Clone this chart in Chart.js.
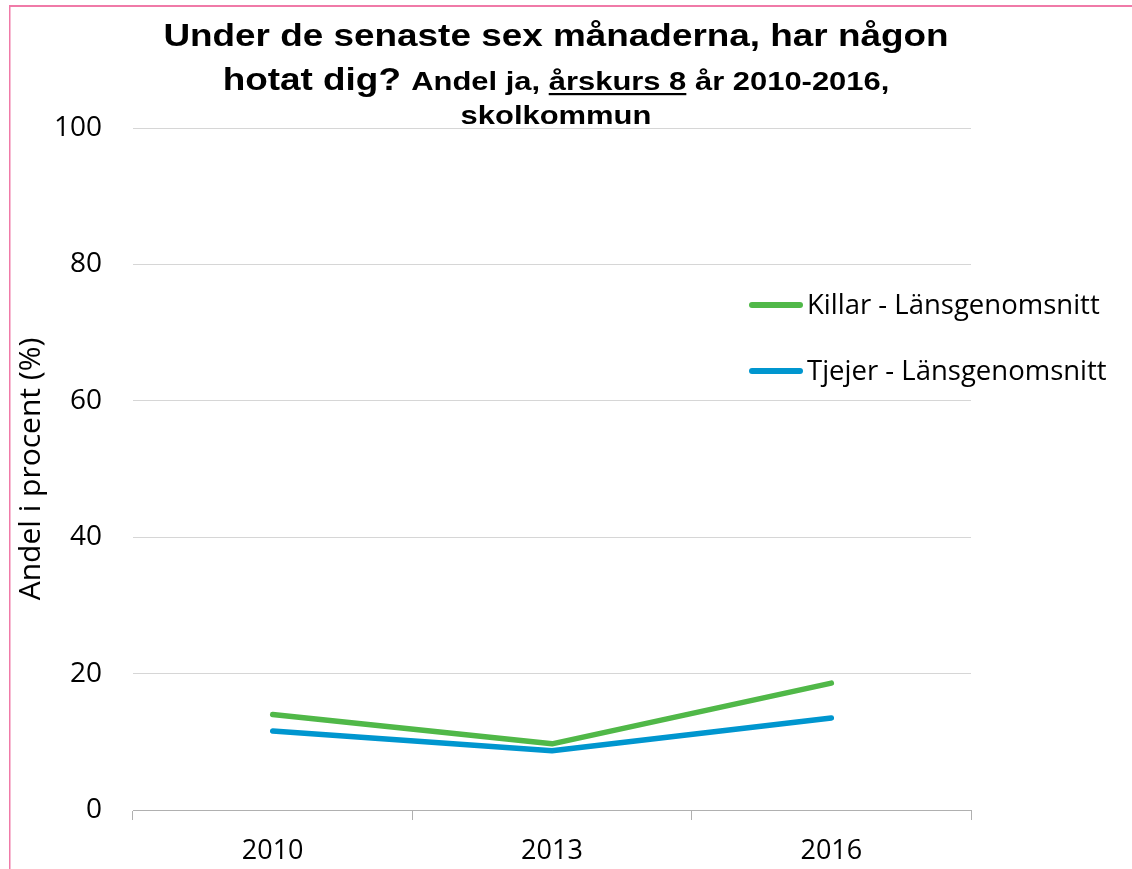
<!DOCTYPE html>
<html>
<head>
<meta charset="utf-8">
<script src="https://cdn.jsdelivr.net/npm/chart.js@4"></script>
<style>
  html, body { margin: 0; padding: 0; background: #fff; }
  #wrap { width: 1132px; height: 869px; position: relative; }
</style>
</head>
<body>
<div id="wrap"><canvas id="c" width="1132" height="869"></canvas></div>
<script>
// Survey years and share answering "ja" (%)
const years = ['2010', '2013', '2016'];
const killar = [14.0, 9.7, 18.6];
const tjejer = [11.6, 8.7, 13.5];
const seriesNames = ['Killar - Länsgenomsnitt', 'Tjejer - Länsgenomsnitt'];
const seriesColors = ['#50B848', '#0096CF'];

const titleLine1 = 'Under de senaste sex månaderna, har någon';
const titleLine2Big = 'hotat dig? ';
const titleLine2Parts = [
  { text: 'Andel ja, ', underline: false },
  { text: 'årskurs 8', underline: true },
  { text: ' år 2010-2016,', underline: false }
];
const titleLine3 = 'skolkommun';
const yAxisTitle = 'Andel i procent (%)';

const BODY_FONT = '"Open Sans", Lato, sans-serif';
const TITLE_FONT = '"Liberation Sans", Arial, sans-serif';
const TITLE_STRETCH = 1.19;

// Page frame and white background
const framePlugin = {
  id: 'frame',
  beforeDraw(chart) {
    const ctx = chart.ctx;
    ctx.save();
    ctx.fillStyle = '#ffffff';
    ctx.fillRect(0, 0, chart.width, chart.height);
    ctx.fillStyle = '#F07AA8';
    ctx.fillRect(9, 5, chart.width - 9, 2);
    ctx.fillRect(9, 5, 1.5, chart.height - 5);
    ctx.restore();
  }
};

// Multi-size bold title (slightly widened) with an underlined segment
const titlePlugin = {
  id: 'mixedTitle',
  afterDraw(chart) {
    const ctx = chart.ctx;
    const cx = 556;
    const s = TITLE_STRETCH;
    ctx.save();
    ctx.translate(cx, 0);
    ctx.scale(s, 1);
    ctx.fillStyle = '#000';
    ctx.textBaseline = 'alphabetic';
    const big = 'bold 31px ' + TITLE_FONT;
    const small = 'bold 26px ' + TITLE_FONT;

    ctx.font = big;
    ctx.textAlign = 'center';
    ctx.fillText(titleLine1, 0, 46);

    // second line: big part + small parts, centred together
    ctx.textAlign = 'left';
    ctx.font = big;
    const wBig = ctx.measureText(titleLine2Big).width;
    ctx.font = small;
    const widths = titleLine2Parts.map(p => ctx.measureText(p.text).width);
    const total = wBig + widths.reduce((a, b) => a + b, 0);
    let x = -total / 2;
    const y2 = 90;
    ctx.font = big;
    ctx.fillText(titleLine2Big, x, y2);
    x += wBig;
    ctx.font = small;
    titleLine2Parts.forEach((p, i) => {
      ctx.fillText(p.text, x, y2);
      if (p.underline) {
        ctx.fillRect(x, y2 + 3, widths[i], 2.2);
      }
      x += widths[i];
    });

    ctx.font = small;
    ctx.textAlign = 'center';
    ctx.fillText(titleLine3, 0, 124);
    ctx.restore();
  }
};

// Legend drawn inside the plot, to the right
const legendPlugin = {
  id: 'sideLegend',
  afterDraw(chart) {
    const ctx = chart.ctx;
    ctx.save();
    ctx.font = '27.5px ' + BODY_FONT;
    ctx.textBaseline = 'middle';
    ctx.textAlign = 'left';
    const rows = [305, 371];
    chart.data.datasets.forEach((ds, i) => {
      const y = rows[i];
      ctx.strokeStyle = ds.borderColor;
      ctx.lineWidth = 6;
      ctx.lineCap = 'round';
      ctx.beginPath();
      ctx.moveTo(752, y);
      ctx.lineTo(800, y);
      ctx.stroke();
      ctx.fillStyle = '#000';
      ctx.fillText(ds.label, 807, y + 1);
    });
    ctx.restore();
  }
};

new Chart(document.getElementById('c'), {
  type: 'line',
  data: {
    labels: years,
    datasets: [
      { label: seriesNames[0], data: killar, borderColor: seriesColors[0], backgroundColor: seriesColors[0] },
      { label: seriesNames[1], data: tjejer, borderColor: seriesColors[1], backgroundColor: seriesColors[1] }
    ]
  },
  options: {
    responsive: false,
    animation: false,
    devicePixelRatio: 1,
    layout: { padding: { top: 128, right: 161, bottom: 0, left: 0 } },
    elements: {
      line: { borderWidth: 5.5, tension: 0, borderCapStyle: 'round', borderJoinStyle: 'round' },
      point: { radius: 0, hoverRadius: 0 }
    },
    plugins: {
      legend: { display: false },
      title: { display: false },
      tooltip: { enabled: false }
    },
    scales: {
      x: {
        offset: true,
        grid: {
          offset: true,
          drawOnChartArea: false,
          drawTicks: true,
          tickLength: 10,
          color: '#b0b0b0'
        },
        border: { display: true, color: '#b0b0b0', width: 1 },
        ticks: {
          color: '#000',
          font: { family: BODY_FONT, size: 27 },
          padding: 15,
          maxRotation: 0
        },
        afterFit(scale) { scale.height = 59; }
      },
      y: {
        min: 0,
        max: 100,
        grid: { color: '#d6d6d6', drawTicks: false, lineWidth: 1 },
        border: { display: false },
        ticks: {
          stepSize: 20,
          color: '#000',
          font: { family: BODY_FONT, size: 28 },
          padding: 31
        },
        title: {
          display: true,
          text: yAxisTitle,
          color: '#000',
          font: { family: BODY_FONT, size: 30, weight: 'normal' },
          padding: { top: 13, bottom: 0 }
        },
        afterFit(scale) { scale.width = 133; }
      }
    }
  },
  plugins: [framePlugin, titlePlugin, legendPlugin]
});
</script>
</body>
</html>
